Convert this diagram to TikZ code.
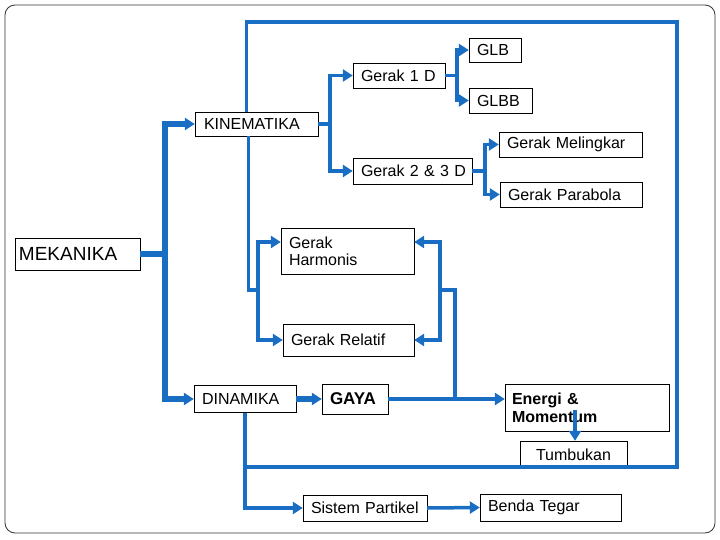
\documentclass[tikz,border=0pt]{standalone}
\usepackage{fontspec}
\setmainfont{Liberation Sans}
\usetikzlibrary{arrows.meta, positioning, calc}
\definecolor{linkblue}{RGB}{25,110,195}
\tikzset{>={Triangle[width=12pt,length=10pt]}}
\tikzset{
  box/.style = {draw, thin, inner sep=3pt, font=\fontsize{16}{17}\selectfont, align=left},
  link/.style = {draw=linkblue, line width=3.5pt},
  arr/.style = {link, ->},
}

\begin{document}
\begin{tikzpicture}[x=1pt, y=-1pt]
	\useasboundingbox (0,0) rectangle (720,540);
	\draw[rounded corners=10pt, line width=0.8pt, black!80] (5,5) rectangle (715,533);
	\node (mek) [box, minimum width=125, minimum height=32, text width=117, font=\fontsize{19}{21}\selectfont] at (77.5,254) {MEKANIKA};
	\node (kin) [box, minimum width=123, minimum height=24, text width=113] at (256.5,124) {\hspace*{4pt}KINEMATIKA};
	\node (g1) [box, minimum width=92, minimum height=25, text width=84] at (399,75.5) {\hspace*{4pt}Gerak 1 D};
	\node (glb) [box, minimum width=52, minimum height=24, text width=44] at (495,50) {\hspace*{4pt}GLB};
	\node (glbb) [box, minimum width=63, minimum height=25, text width=55] at (500.5,100.5) {\hspace*{4pt}GLBB};
	\node (g23) [box, minimum width=119, minimum height=26, text width=111] at (412.5,171) {\hspace*{4pt}Gerak 2 \& 3 D};
	\node (gml) [box, minimum width=143, minimum height=25, text width=135] at (570.5,144.5) {\hspace*{4pt}Gerak Melingkar};
	\node (gpb) [box, minimum width=142, minimum height=25, text width=134] at (571,194.5) {\hspace*{4pt}Gerak Parabola};
	\node (ghr) [box, minimum width=133, minimum height=46, text width=125] at (347.5,251) {\hspace*{4pt}Gerak\\\hspace*{4pt}Harmonis};
	\node (grl) [box, minimum width=131, minimum height=32, text width=123] at (348.5,340) {\hspace*{4pt}Gerak Relatif};
	\node (din) [box, minimum width=102, minimum height=27, text width=94] at (245,399) {\hspace*{4pt}DINAMIKA};
	\node (gaya) [box, minimum width=66, minimum height=30, text width=58, font=\fontsize{17}{19}\selectfont\bfseries] at (355,399) {\hspace*{4pt}GAYA};
	\node (ene) [box, minimum width=164, minimum height=47, text width=150, font=\fontsize{16}{18}\selectfont\bfseries] at (587,408) {Energi \&\\Momentum};
	\node (tum) [box, minimum width=107, minimum height=27, text width=99, align=center] at (573.5,454.5) {Tumbukan};
	\node (sis) [box, minimum width=124, minimum height=26, text width=116] at (365,508) {\hspace*{4pt}Sistem Partikel};
	\node (ben) [box, minimum width=141, minimum height=27, text width=133] at (550.5,507.5) {\hspace*{4pt}Benda Tegar};
	% mekanika
	\draw[link, line width=5.5pt] (mek.east) -- ++(25,0) coordinate (mj);
	\draw[arr, line width=5.5pt] (mj |- kin.west) -- (kin.west);
	\draw[arr, line width=5.5pt] (mj |- din.west) -- (din.west);
	\draw[link, line width=5.5pt] ($(mj |- kin.west)+(0,-2.75)$) -- ($(mj |- din.west)+(0,2.75)$);
	% kinematika
	\draw[link] (kin.east) -- ++(12,0) coordinate (kj);
	\draw[arr] (kj |- g1.west) -- (g1.west);
	\draw[arr] (kj |- g23.west) -- (g23.west);
	\draw[link] ($(kj |- g1.west)+(0,-1.75)$) -- ($(kj |- g23.west)+(0,1.75)$);
	\draw[link] (g1.east) -- ++(12,0) coordinate (aj);
	\draw[arr] (aj |- glb.west) -- (glb.west);
	\draw[arr] (aj |- glbb.west) -- (glbb.west);
	\draw[link] ($(aj |- glb.west)+(0,-1.75)$) -- ($(aj |- glbb.west)+(0,1.75)$);
	\draw[link] (g23.east) -- ++(13,0) coordinate (bj);
	\draw[arr] (bj |- gml.west) -- (gml.west);
	\draw[arr] (bj |- gpb.west) -- (gpb.west);
	\draw[link] ($(bj |- gml.west)+(0,-1.75)$) -- ($(bj |- gpb.west)+(0,1.75)$);
	% harmonis / relatif
	\coordinate (hj) at (258,290);
	\draw[link] ($(kin.south)+(-8,0)$) |- (hj);
	\draw[arr] (hj |- 0,242) -- (ghr.west |- 0,242);
	\draw[arr] (hj |- grl.west) -- (grl.west);
	\draw[link] ($(hj |- 0,242)+(0,-1.75)$) -- ($(hj |- grl.west)+(0,1.75)$);
	\coordinate (rj) at (440,290);
	\draw[arr] (rj |- 0,242) -- (ghr.east |- 0,242);
	\draw[arr] (rj |- grl.east) -- (grl.east);
	\draw[link] ($(rj |- 0,242)+(0,-1.75)$) -- ($(rj |- grl.east)+(0,1.75)$);
	\draw[link] (rj) -| (455,399) coordinate (ej);
	% dinamika
	\draw[arr, line width=6pt] (din.east) -- (gaya.west);
	\draw[link] (gaya.east) -- (ej);
	\draw[arr] (ej) -- (ene.west |- ej);
	\draw[arr] (575,410) -- (tum.north -| 575,0);
	\draw[arr] (din.south) |- (sis.west);
	\draw[arr] (sis.east) -- (ben.west);
	% loop
	\draw[link] ($(kin.north)+(-10,0)$) |- (677,22) |- (din.south |- 0,467);
\end{tikzpicture}
\end{document}
